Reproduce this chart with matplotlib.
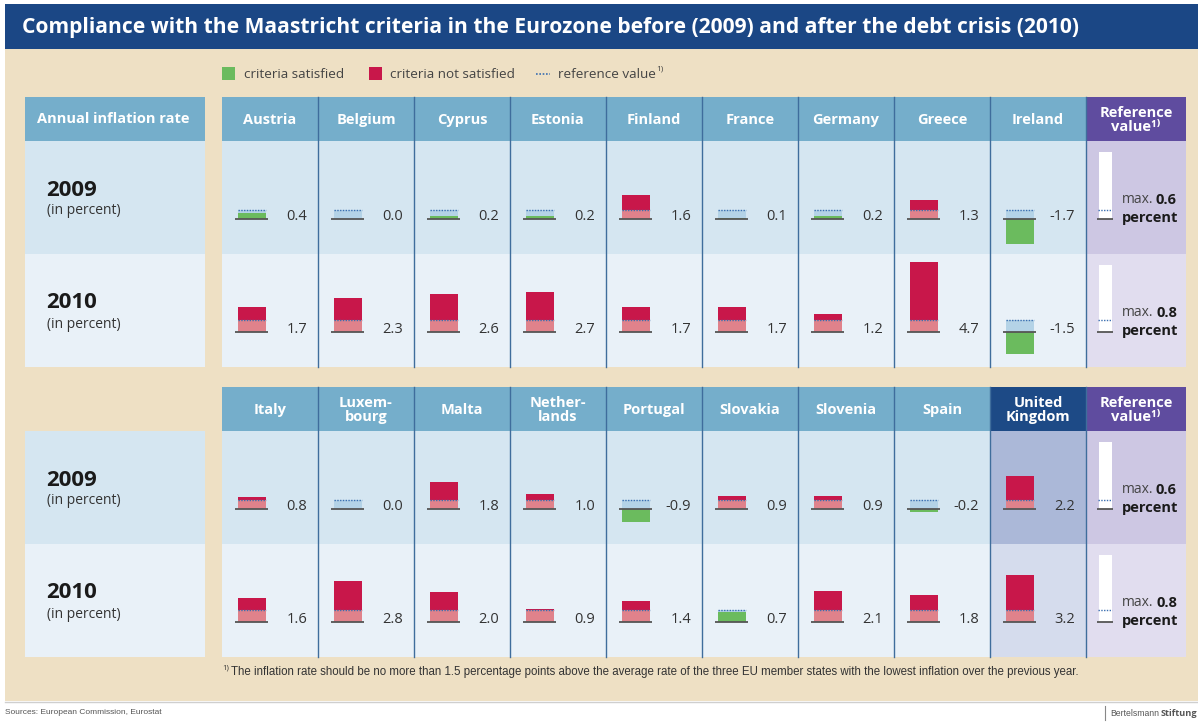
import numpy as np
import matplotlib
matplotlib.use('Agg')
import matplotlib.pyplot as plt
from matplotlib.patches import Rectangle

plt.rcParams['font.family'] = ['Open Sans', 'DejaVu Sans']

# Data
countries_top = ['Austria', 'Belgium', 'Cyprus', 'Estonia', 'Finland', 'France', 'Germany', 'Greece', 'Ireland']
infl_2009_top = [0.4, 0.0, 0.2, 0.2, 1.6, 0.1, 0.2, 1.3, -1.7]
infl_2010_top = [1.7, 2.3, 2.6, 2.7, 1.7, 1.7, 1.2, 4.7, -1.5]

countries_bottom = ['Italy', 'Luxem-\nbourg', 'Malta', 'Nether-\nlands', 'Portugal', 'Slovakia', 'Slovenia', 'Spain',
                    'United\nKingdom']
infl_2009_bottom = [0.8, 0.0, 1.8, 1.0, -0.9, 0.9, 0.9, -0.2, 2.2]
infl_2010_bottom = [1.6, 2.8, 2.0, 0.9, 1.4, 0.7, 2.1, 1.8, 3.2]

years = ['2009', '2010']
ref_values = [0.6, 0.8]

# Colours
TITLE_BG = '#1b4785'
BEIGE = '#eee0c4'
HEADER = '#75aecb'
ROW_COLS = ['#d5e6f1', '#e9f1f8']
UK_HEADER = '#1d4a86'
UK_COLS = ['#abb8d8', '#d5dced']
REF_HEADER = '#5f4c9f'
REF_COLS = ['#cdc7e3', '#e1ddef']
DIVIDER = '#3f6d9c'
RED = '#c8174a'
PINK = '#e0828b'
GREEN = '#6bbb5e'
LIGHTBLUE = '#b4d3e7'
BASE = '#555555'
DOTS = '#3b6fb0'
TXT = '#333333'

W, H = 1198, 722
fig = plt.figure(figsize=(W / 100, H / 100), dpi=100)
fig.patch.set_facecolor('white')

bg = fig.add_axes([0, 0, 1, 1])
bg.set_xlim(0, W)
bg.set_ylim(H, 0)
bg.axis('off')


def rect(x0, y0, x1, y1, color, z=1):
    bg.add_patch(Rectangle((x0, y0), x1 - x0, y1 - y0, facecolor=color, edgecolor='none', zorder=z))


# Title bar and beige panel
rect(5, 4, W, 49, TITLE_BG)
bg.text(22, 27, 'Compliance with the Maastricht criteria in the Eurozone before (2009) and after the debt crisis (2010)',
        color='white', fontsize=15.1, fontweight='bold', va='center', ha='left', zorder=5)
rect(5, 49, W, 701, BEIGE)
bg.plot([5, W], [701.5, 701.5], color='#cfcfcf', lw=1)

# Legend
rect(222, 67, 235, 80, GREEN, 3)
bg.text(244, 74, 'criteria satisfied', fontsize=9.7, color='#444444', va='center')
rect(369, 67, 382, 80, RED, 3)
bg.text(390, 74, 'criteria not satisfied', fontsize=9.7, color='#444444', va='center')
bg.plot([536, 550], [74, 74], color=DOTS, lw=1.2, ls=(0, (1, 1)))
bg.text(558, 74, 'reference value', fontsize=9.7, color='#444444', va='center')
bg.text(656, 69, '1)', fontsize=6, color='#444444', va='center')

col_x0 = 222
col_w = 96
ref_x0, ref_x1 = 1086, 1186
head_h = 44
row_h = 113
scale = 14.8  # pixels per percentage point
base_off = 35  # baseline distance from bottom of row


def draw_panel(top, names, vals_by_year, left_header, uk_col=None):
    rows_top = [top + head_h, top + head_h + row_h]
    bottom = top + head_h + 2 * row_h
    # left label column
    if left_header:
        rect(25, top, 205, top + head_h, HEADER, 2)
        bg.text(113, top + head_h / 2, 'Annual inflation rate', color='white', fontsize=10.5,
                fontweight='bold', ha='center', va='center', zorder=5)
    for k, yt in enumerate(rows_top):
        rect(25, yt, 205, yt + row_h, ROW_COLS[k], 2)
        bg.text(46, yt + 49, years[k], fontsize=16, fontweight='bold', color='#1a1a1a', va='center', zorder=5)
        bg.text(47, yt + 70, '(in percent)', fontsize=10, color='#333333', va='center', zorder=5)
    # country headers and rows
    n = len(names)
    rect(col_x0, top, col_x0 + n * col_w, top + head_h, HEADER, 2)
    for k, yt in enumerate(rows_top):
        rect(col_x0, yt, col_x0 + n * col_w, yt + row_h, ROW_COLS[k], 2)
    if uk_col is not None:
        x0 = col_x0 + uk_col * col_w
        rect(x0, top, x0 + col_w, top + head_h, UK_HEADER, 3)
        for k, yt in enumerate(rows_top):
            rect(x0, yt, x0 + col_w, yt + row_h, UK_COLS[k], 3)
    for i, name in enumerate(names):
        bg.text(col_x0 + (i + 0.5) * col_w, top + head_h / 2 + 1, name, color='white', fontsize=10.5,
                fontweight='bold', ha='center', va='center', linespacing=0.95, zorder=5)
    for i in range(1, n + 1):
        bg.plot([col_x0 + i * col_w] * 2, [top, bottom], color=DIVIDER, lw=1, zorder=4)
    # reference column
    rect(ref_x0, top, ref_x1, top + head_h, REF_HEADER, 2)
    bg.text((ref_x0 + ref_x1) / 2, top + head_h / 2 + 1, 'Reference\nvalue\u00b9\u207e', color='white',
            fontsize=10.5, fontweight='bold', ha='center', va='center', linespacing=0.95, zorder=5)
    for k, yt in enumerate(rows_top):
        rect(ref_x0, yt, ref_x1, yt + row_h, REF_COLS[k], 2)

    ylim = (-base_off / scale, (row_h - base_off) / scale)
    for k, yt in enumerate(rows_top):
        vals = np.array(vals_by_year[k])
        r = ref_values[k]
        ax = fig.add_axes([col_x0 / W, 1 - (yt + row_h) / H, n * col_w / W, row_h / H])
        ax.patch.set_alpha(0)
        ax.axis('off')
        ax.set_xlim(-0.5, n - 0.5)
        ax.set_ylim(*ylim)
        x = np.arange(n) - 0.19
        bw = 0.29
        over = vals > r
        pos = np.clip(vals, 0, None)
        ax.bar(x, np.where(over, r, 0), width=bw, color=PINK)
        ax.bar(x, np.where(over, vals - r, 0), bottom=r, width=bw, color=RED)
        ax.bar(x, np.where(over, 0, r - pos), bottom=pos, width=bw, color=LIGHTBLUE)
        ax.bar(x, np.where(over, 0, vals), width=bw, color=GREEN)
        ax.hlines(np.zeros(n), x - bw / 2 - 0.025, x + bw / 2 + 0.025, color=BASE, lw=1.3)
        ax.hlines(np.full(n, r), x - bw / 2, x + bw / 2, color=DOTS, lw=1, linestyles=(0, (1, 1)))
        for i, v in enumerate(vals):
            ax.text(i + 0.385, 0.15, f'{v:.1f}', fontsize=10.5, color=TXT, ha='right', va='center')

        # reference value cell
        rax = fig.add_axes([ref_x0 / W, 1 - (yt + row_h) / H, (ref_x1 - ref_x0) / W, row_h / H])
        rax.patch.set_alpha(0)
        rax.axis('off')
        rax.set_xlim(0, ref_x1 - ref_x0)
        rax.set_ylim(*ylim)
        rax.bar(19, 4.55, width=13, color='white')
        rax.hlines(0, 11, 27, color=BASE, lw=1.3)
        rax.hlines(r, 12, 26, color=DOTS, lw=1, linestyles=(0, (1, 1)))
        rax.text(36, 1.3, 'max.', fontsize=10, color='#444444', ha='left', va='center')
        rax.text(91, 1.3, f'{r:.1f}', fontsize=10.5, color='#1a1a1a', fontweight='bold', ha='right', va='center')
        rax.text(36, 0.1, 'percent', fontsize=10.5, color='#1a1a1a', fontweight='bold', ha='left', va='center')


draw_panel(97, countries_top, [infl_2009_top, infl_2010_top], True)
draw_panel(387, countries_bottom, [infl_2009_bottom, infl_2010_bottom], False, uk_col=8)

# Footnote and sources
bg.text(222, 668, '1)', fontsize=5.5, color='#333333', va='center')
bg.text(231, 672, 'The inflation rate should be no more than 1.5 percentage points above the average rate of the three '
        'EU member states with the lowest inflation over the previous year.', fontsize=8.3, color='#333333',
        va='center', family=['Liberation Sans Narrow', 'Liberation Sans'])
bg.text(5, 713, 'Sources: European Commission, Eurostat', fontsize=6, color='#555555', va='center',
        family=['Liberation Sans Narrow', 'Liberation Sans'])
bg.plot([1105, 1105], [706, 720], color='#888888', lw=0.8)
bg.text(1110, 713, 'Bertelsmann', fontsize=6.2, color='#555555', va='center',
        family=['Liberation Sans Narrow', 'Liberation Sans'])
bg.text(1161, 713, 'Stiftung', fontsize=6.6, color='#555555', fontweight='bold', va='center')

fig.savefig('out.png', dpi=100, facecolor='white')
